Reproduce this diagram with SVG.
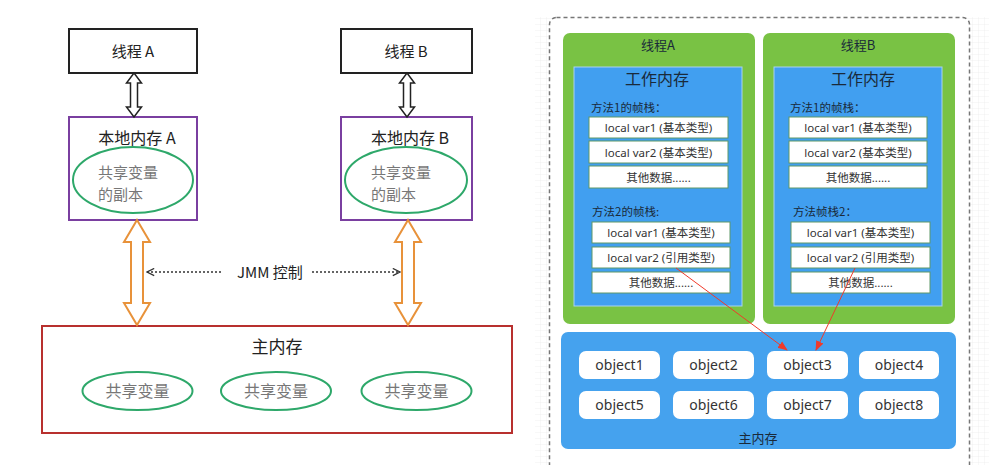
<svg xmlns="http://www.w3.org/2000/svg" width="989" height="465" viewBox="0 0 989 465">
<defs>
<pattern id="grid" width="6" height="6" patternUnits="userSpaceOnUse">
<path d="M6,0 L0,0 L0,6" fill="none" stroke="#e6e6e6" stroke-width="0.6"/>
</pattern>
<marker id="chev" viewBox="0 0 10 10" refX="9" refY="5" markerWidth="9" markerHeight="9" orient="auto-start-reverse" markerUnits="userSpaceOnUse">
<path d="M1,1 L9,5 L1,9" fill="none" stroke="#333" stroke-width="1.4"/>
</marker>
<marker id="red" viewBox="0 0 10 10" refX="9" refY="5" markerWidth="10" markerHeight="10" orient="auto" markerUnits="userSpaceOnUse">
<path d="M0,1 L10,5 L0,9 Z" fill="#f03a2a"/>
</marker>
</defs>
<style>
.t{font-family:"Noto Sans CJK SC","Noto Sans",sans-serif;fill:#222;}
.g{font-family:"Noto Sans CJK SC","Noto Sans",sans-serif;fill:#777;font-size:16px;}
.g2{font-family:"Noto Sans CJK SC","Noto Sans",sans-serif;fill:#777;font-size:15px;}
.box{fill:#fff;stroke:#222;stroke-width:2;}
.loc{fill:#fff;stroke:#7a3fa0;stroke-width:2;}
.ell{fill:#fff;stroke:#2ea86a;stroke-width:2;}
.dbl{fill:#fff;stroke:#222;stroke-width:1.5;}
.org{fill:#fff;stroke:#e8923a;stroke-width:2;}
.grn{fill:#79c244;}
.blu{fill:#419ff0;stroke:#a9d2f2;stroke-width:1;}
.cell{fill:#fff;stroke:#5f9868;stroke-width:1;}
.c{font-family:"Noto Sans","Noto Sans CJK SC",sans-serif;fill:#333;font-size:11.5px;}
.h{font-family:"Noto Sans CJK SC",sans-serif;fill:#1a2a3a;}
.obj{fill:#fff;}
.o{font-family:"Noto Sans","Noto Sans CJK SC",sans-serif;fill:#333;font-size:14px;}
</style>
<rect x="0" y="0" width="989" height="465" fill="#fff"/>
<rect x="535" y="17" width="454" height="448" fill="url(#grid)"/>
<rect x="549.5" y="17.5" width="420" height="460" rx="7" fill="#fff" stroke="#777" stroke-width="1.5" stroke-dasharray="4 3"/>

<g id="threadA">
<rect class="box" x="69" y="29" width="128" height="44"/>
<text class="t" x="133" y="57" font-size="15" text-anchor="middle">线程 A</text>
</g>
<g id="threadB">
<rect class="box" x="341" y="29" width="131" height="44"/>
<text class="t" x="406" y="57" font-size="15" text-anchor="middle">线程 B</text>
</g>
<g id="localA">
<rect class="loc" x="69" y="117" width="128" height="103"/>
<text class="t" x="137" y="144" font-size="16" text-anchor="middle">本地内存 A</text>
<ellipse class="ell" cx="133" cy="180" rx="60" ry="33"/>
<text class="g2" x="98" y="178">共享变量</text>
<text class="g2" x="98" y="200">的副本</text>
</g>
<g id="localB">
<rect class="loc" x="341" y="117" width="131" height="103"/>
<text class="t" x="410" y="144" font-size="16" text-anchor="middle">本地内存 B</text>
<ellipse class="ell" cx="406" cy="180" rx="61" ry="33"/>
<text class="g2" x="371" y="178">共享变量</text>
<text class="g2" x="371" y="200">的副本</text>
</g>
<g id="mainLeft">
<rect x="42" y="326" width="470" height="107" fill="#fff" stroke="#b8302e" stroke-width="2"/>
<text class="t" x="277" y="353" font-size="17" text-anchor="middle">主内存</text>
<ellipse class="ell" cx="137.5" cy="391" rx="55" ry="19"/>
<ellipse class="ell" cx="276" cy="391" rx="55" ry="19"/>
<ellipse class="ell" cx="416.5" cy="391" rx="55" ry="19"/>
<text class="g" x="137.5" y="397" text-anchor="middle">共享变量</text>
<text class="g" x="276" y="397" text-anchor="middle">共享变量</text>
<text class="g" x="416.5" y="397" text-anchor="middle">共享变量</text>
</g>
<g id="jmm">
<text class="t" x="237" y="278" font-size="15">JMM 控制</text>
</g>

<g id="thread2A">
<rect class="grn" x="563" y="33" width="192" height="291" rx="7"/>
<text class="h" x="658" y="50" font-size="13" text-anchor="middle">线程A</text>
<rect class="blu" x="574" y="67" width="168" height="239"/>
<text class="h" x="657" y="85" font-size="16" text-anchor="middle">工作内存</text>
<text class="h" x="591" y="112" font-size="11.5">方法1的帧栈：</text>
<rect class="cell" x="589" y="117" width="139" height="21"/>
<rect class="cell" x="589" y="141" width="139" height="22"/>
<rect class="cell" x="589" y="166" width="139" height="22"/>
<text class="c" x="658.5" y="132" text-anchor="middle">local var1 (基本类型)</text>
<text class="c" x="658.5" y="157" text-anchor="middle">local var2 (基本类型)</text>
<text class="c" x="658.5" y="182" font-size="13" text-anchor="middle">其他数据......</text>
<text class="h" x="592" y="216" font-size="11.5">方法2的帧栈:</text>
<rect class="cell" x="592" y="222" width="138" height="21"/>
<rect class="cell" x="592" y="247" width="138" height="21"/>
<rect class="cell" x="592" y="272" width="138" height="21"/>
<text class="c" x="661" y="237" text-anchor="middle">local var1 (基本类型)</text>
<text class="c" x="661" y="262" text-anchor="middle">local var2 (引用类型)</text>
<text class="c" x="661" y="287" font-size="13" text-anchor="middle">其他数据......</text>
</g>
<g id="thread2B">
<rect class="grn" x="763" y="33" width="192" height="291" rx="7"/>
<text class="h" x="858" y="50" font-size="13" text-anchor="middle">线程B</text>
<rect class="blu" x="774" y="67" width="168" height="239"/>
<text class="h" x="863" y="85" font-size="16" text-anchor="middle">工作内存</text>
<text class="h" x="790" y="112" font-size="11.5">方法1的帧栈：</text>
<rect class="cell" x="789" y="117" width="138" height="21"/>
<rect class="cell" x="789" y="141" width="138" height="22"/>
<rect class="cell" x="789" y="166" width="138" height="22"/>
<text class="c" x="858" y="132" text-anchor="middle">local var1 (基本类型)</text>
<text class="c" x="858" y="157" text-anchor="middle">local var2 (基本类型)</text>
<text class="c" x="858" y="182" font-size="13" text-anchor="middle">其他数据......</text>
<text class="h" x="793" y="216" font-size="11.5">方法帧栈2：</text>
<rect class="cell" x="791" y="222" width="139" height="21"/>
<rect class="cell" x="791" y="247" width="139" height="21"/>
<rect class="cell" x="791" y="272" width="139" height="21"/>
<text class="c" x="860.5" y="237" text-anchor="middle">local var1 (基本类型)</text>
<text class="c" x="860.5" y="262" text-anchor="middle">local var2 (引用类型)</text>
<text class="c" x="860.5" y="287" font-size="13" text-anchor="middle">其他数据......</text>
</g>
<g id="mainRight">
<rect x="561" y="332" width="395" height="117" rx="7" fill="#45a2ee"/>
<text class="h" x="758" y="443" font-size="13" text-anchor="middle">主内存</text>
<rect class="obj" x="579" y="351" width="81" height="28" rx="7"/>
<rect class="obj" x="673" y="351" width="81" height="28" rx="7"/>
<rect class="obj" x="767" y="351" width="81" height="28" rx="7"/>
<rect class="obj" x="859" y="351" width="80" height="28" rx="7"/>
<rect class="obj" x="579" y="391" width="81" height="28" rx="7"/>
<rect class="obj" x="673" y="391" width="81" height="28" rx="7"/>
<rect class="obj" x="767" y="391" width="81" height="28" rx="7"/>
<rect class="obj" x="859" y="391" width="80" height="28" rx="7"/>
<text class="o" x="619.5" y="370" text-anchor="middle">object1</text>
<text class="o" x="713.5" y="370" text-anchor="middle">object2</text>
<text class="o" x="807.5" y="370" text-anchor="middle">object3</text>
<text class="o" x="899" y="370" text-anchor="middle">object4</text>
<text class="o" x="619.5" y="410" text-anchor="middle">object5</text>
<text class="o" x="713.5" y="410" text-anchor="middle">object6</text>
<text class="o" x="807.5" y="410" text-anchor="middle">object7</text>
<text class="o" x="899" y="410" text-anchor="middle">object8</text>
</g>

<g id="connectors">
<path class="dbl" d="M134,73 L141.5,83 L137.5,83 L137.5,107 L141.5,107 L134,117 L126.5,107 L130.5,107 L130.5,83 L126.5,83 Z"/>
<path class="dbl" d="M407,73 L414.5,83 L410.5,83 L410.5,107 L414.5,107 L407,117 L399.5,107 L403.5,107 L403.5,83 L399.5,83 Z"/>
<path class="org" d="M137,220 L150,242 L143,242 L143,303 L150,303 L137,325 L124,303 L131,303 L131,242 L124,242 Z"/>
<path class="org" d="M408,220 L421,242 L414,242 L414,303 L421,303 L408,325 L395,303 L402,303 L402,242 L395,242 Z"/>
<line x1="147" y1="272" x2="222" y2="272" stroke="#333" stroke-width="1.3" stroke-dasharray="2 2" marker-start="url(#chev)"/>
<line x1="312" y1="272" x2="400" y2="272" stroke="#333" stroke-width="1.3" stroke-dasharray="2 2" marker-end="url(#chev)"/>
<line x1="676" y1="268" x2="787" y2="350" stroke="#f03a2a" stroke-width="1" marker-end="url(#red)"/>
<line x1="855" y1="268" x2="816" y2="350" stroke="#f03a2a" stroke-width="1" marker-end="url(#red)"/>
</g>
</svg>
